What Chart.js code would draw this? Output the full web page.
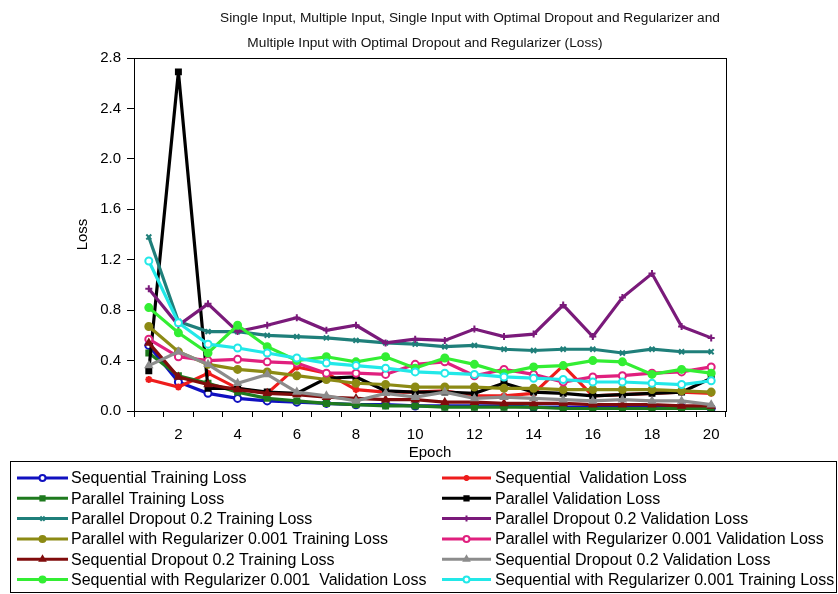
<!DOCTYPE html>
<html><head><meta charset="utf-8">
<script src="https://cdn.jsdelivr.net/npm/chart.js@4.4.1/dist/chart.umd.min.js"></script>
<style>html,body{margin:0;padding:0;background:#fff}canvas{display:block}</style>
</head><body>
<canvas id="c" width="838" height="594"></canvas>
<script>
const epochs = ['1','2','3','4','5','6','7','8','9','10','11','12','13','14','15','16','17','18','19','20'];
const xTickLabels = ['','2','','4','','6','','8','','10','','12','','14','','16','','18','','20'];
const yTickLabels = ['0.0','0.4','0.8','1.2','1.6','2.0','2.4','2.8'];
const titleLines = ['Single Input, Multiple Input, Single Input with Optimal Dropout and Regularizer and','Multiple Input with Optimal Dropout and Regularizer (Loss)'];

const seqTrain   = [0.52,0.23,0.14,0.10,0.08,0.07,0.06,0.05,0.05,0.04,0.04,0.04,0.04,0.03,0.03,0.03,0.03,0.03,0.03,0.02];
const seqVal     = [0.25,0.19,0.30,0.18,0.14,0.35,0.30,0.17,0.15,0.15,0.16,0.12,0.12,0.14,0.36,0.12,0.13,0.14,0.15,0.14];
const parTrain   = [0.46,0.28,0.22,0.15,0.10,0.08,0.06,0.05,0.04,0.04,0.03,0.03,0.03,0.03,0.02,0.02,0.02,0.02,0.02,0.02];
const parVal     = [0.32,2.69,0.18,0.18,0.15,0.14,0.26,0.27,0.16,0.15,0.15,0.14,0.22,0.15,0.14,0.12,0.13,0.14,0.15,0.26];
const parDropTr  = [1.38,0.71,0.63,0.63,0.60,0.59,0.58,0.56,0.54,0.53,0.51,0.52,0.49,0.48,0.49,0.49,0.46,0.49,0.47,0.47];
const parDropVal = [0.97,0.68,0.85,0.63,0.68,0.74,0.64,0.68,0.54,0.57,0.56,0.65,0.59,0.61,0.84,0.59,0.90,1.09,0.67,0.58];
const parRegTr   = [0.67,0.47,0.37,0.33,0.31,0.28,0.25,0.22,0.21,0.19,0.19,0.19,0.18,0.18,0.17,0.17,0.17,0.17,0.16,0.15];
const parRegVal  = [0.57,0.43,0.40,0.41,0.39,0.38,0.30,0.30,0.29,0.37,0.39,0.28,0.33,0.29,0.23,0.27,0.28,0.30,0.31,0.35];
const seqDropTr  = [0.54,0.27,0.21,0.17,0.14,0.13,0.11,0.10,0.09,0.09,0.07,0.07,0.06,0.06,0.06,0.05,0.05,0.05,0.04,0.04];
const seqDropVal = [0.36,0.47,0.37,0.22,0.29,0.15,0.12,0.08,0.14,0.11,0.15,0.10,0.11,0.10,0.09,0.08,0.09,0.08,0.08,0.05];
const seqRegVal  = [0.82,0.62,0.46,0.68,0.51,0.40,0.43,0.39,0.43,0.34,0.42,0.37,0.30,0.35,0.36,0.40,0.39,0.29,0.33,0.30];
const seqRegTr   = [1.19,0.70,0.53,0.50,0.46,0.42,0.38,0.36,0.34,0.31,0.30,0.29,0.27,0.26,0.25,0.23,0.23,0.22,0.21,0.24];

const FONT = 'Arial, "Liberation Sans", sans-serif';

function ds(label, data, color, style, hollow) {
  return {
    label, data,
    borderColor: color, backgroundColor: hollow ? '#ffffff' : color,
    pointStyle: style, pointRadius: 3.5, pointBorderWidth: 2,
    pointBackgroundColor: hollow ? '#ffffff' : color, pointBorderColor: color,
    borderWidth: 3.2, tension: 0, fill: false
  };
}

const datasets = [
  ds('Sequential Training Loss', seqTrain, '#1010c0', 'circle', true),
  ds('Sequential  Validation Loss', seqVal, '#ee1c1c', 'star', false),
  ds('Parallel Training Loss', parTrain, '#1e7a1e', 'rect', false),
  ds('Parallel Validation Loss', parVal, '#000000', 'rect', false),
  ds('Parallel Dropout 0.2 Training Loss', parDropTr, '#1f7f7a', 'crossRot', false),
  ds('Parallel Dropout 0.2 Validation Loss', parDropVal, '#7a1a7a', 'cross', false),
  ds('Parallel with Regularizer 0.001 Training Loss', parRegTr, '#8c8a14', 'circle', false),
  ds('Parallel with Regularizer 0.001 Validation Loss', parRegVal, '#e0207e', 'circle', true),
  ds('Sequential Dropout 0.2 Training Loss', seqDropTr, '#800c0c', 'triangle', false),
  ds('Sequential Dropout 0.2 Validation Loss', seqDropVal, '#8c8c8c', 'triangle', false),
  ds('Sequential with Regularizer 0.001  Validation Loss', seqRegVal, '#33ee33', 'circle', false),
  ds('Sequential with Regularizer 0.001 Training Loss', seqRegTr, '#22e8e8', 'circle', true)
];
datasets.forEach((d, i) => { d.order = datasets.length - i; });

const framePlugin = {
  id: 'frame',
  afterDatasetsDraw(chart) {
    const a = chart.chartArea, ctx = chart.ctx;
    ctx.save();
    ctx.strokeStyle = '#000'; ctx.lineWidth = 1;
    ctx.strokeRect(Math.round(a.left) + 0.5, Math.round(a.top) + 0.5, Math.round(a.right - a.left), Math.round(a.bottom - a.top));
    ctx.restore();
  }
};

const titlePlugin = {
  id: 'twoLineTitle',
  afterDraw(chart) {
    const ctx = chart.ctx;
    ctx.save();
    ctx.fillStyle = '#111'; ctx.font = '13.7px ' + FONT;
    ctx.textAlign = 'center'; ctx.textBaseline = 'middle';
    ctx.fillText(titleLines[0], 470, 18);
    ctx.fillText(titleLines[1], 425, 43);
    ctx.restore();
  }
};

const legendPlugin = {
  id: 'boxLegend',
  afterDraw(chart) {
    const ctx = chart.ctx;
    ctx.save();
    ctx.strokeStyle = '#000'; ctx.lineWidth = 1;
    ctx.strokeRect(10.5, 461.5, 826, 131);
    ctx.font = '16px ' + FONT; ctx.textBaseline = 'middle'; ctx.textAlign = 'left'; ctx.fillStyle = '#000';
    chart.data.datasets.forEach((d, i) => {
      const col = i % 2, row = Math.floor(i / 2);
      const y = 478 + row * 20.3;
      const x0 = col === 0 ? 17 : 442, x1 = col === 0 ? 68 : 491, tx = col === 0 ? 71 : 495;
      ctx.strokeStyle = d.borderColor; ctx.lineWidth = 3;
      ctx.beginPath(); ctx.moveTo(x0, y); ctx.lineTo(x1, y); ctx.stroke();
      ctx.fillStyle = d.pointBackgroundColor; ctx.strokeStyle = d.borderColor; ctx.lineWidth = 2;
      Chart.helpers.drawPoint(ctx, { pointStyle: d.pointStyle, radius: 3, borderWidth: 2, rotation: 0 }, (x0 + x1) / 2, y);
      ctx.fillStyle = '#000';
      ctx.fillText(d.label, tx, y + 1);
    });
    ctx.restore();
  }
};

new Chart(document.getElementById('c'), {
  type: 'line',
  data: { labels: epochs, datasets },
  options: {
    responsive: false, animation: false, devicePixelRatio: 1,
    layout: { padding: { top: 58, left: 0, right: 112, bottom: 124 } },
    plugins: { legend: { display: false }, title: { display: false }, tooltip: { enabled: false } },
    scales: {
      x: {
        type: 'category', offset: true,
        grid: { offset: true, drawOnChartArea: false, drawTicks: true, tickLength: 6, color: '#000' },
        border: { display: true, color: '#000' },
        ticks: { autoSkip: false, maxRotation: 0, minRotation: 0, color: '#000', padding: 9,
                 font: { size: 15, family: FONT }, callback: (v, i) => xTickLabels[i] },
        title: { display: true, text: 'Epoch', color: '#000', font: { size: 15, family: FONT }, padding: { top: 0, bottom: 8 } },
        afterFit: s => { s.height = 59; }
      },
      y: {
        type: 'linear', min: 0, max: 2.8,
        grid: { drawOnChartArea: false, drawTicks: true, tickLength: 7, color: '#000' },
        border: { display: true, color: '#000' },
        ticks: { stepSize: 0.4, color: '#000', padding: 6, font: { size: 15, family: FONT },
                 callback: (v) => yTickLabels[Math.round(v / 0.4)] },
        title: { display: true, text: 'Loss', color: '#000', font: { size: 15, family: FONT }, padding: { top: 74, bottom: 0 } },
        afterFit: s => { s.width = 134; }
      }
    }
  },
  plugins: [framePlugin, titlePlugin, legendPlugin]
});
</script>
</body></html>
